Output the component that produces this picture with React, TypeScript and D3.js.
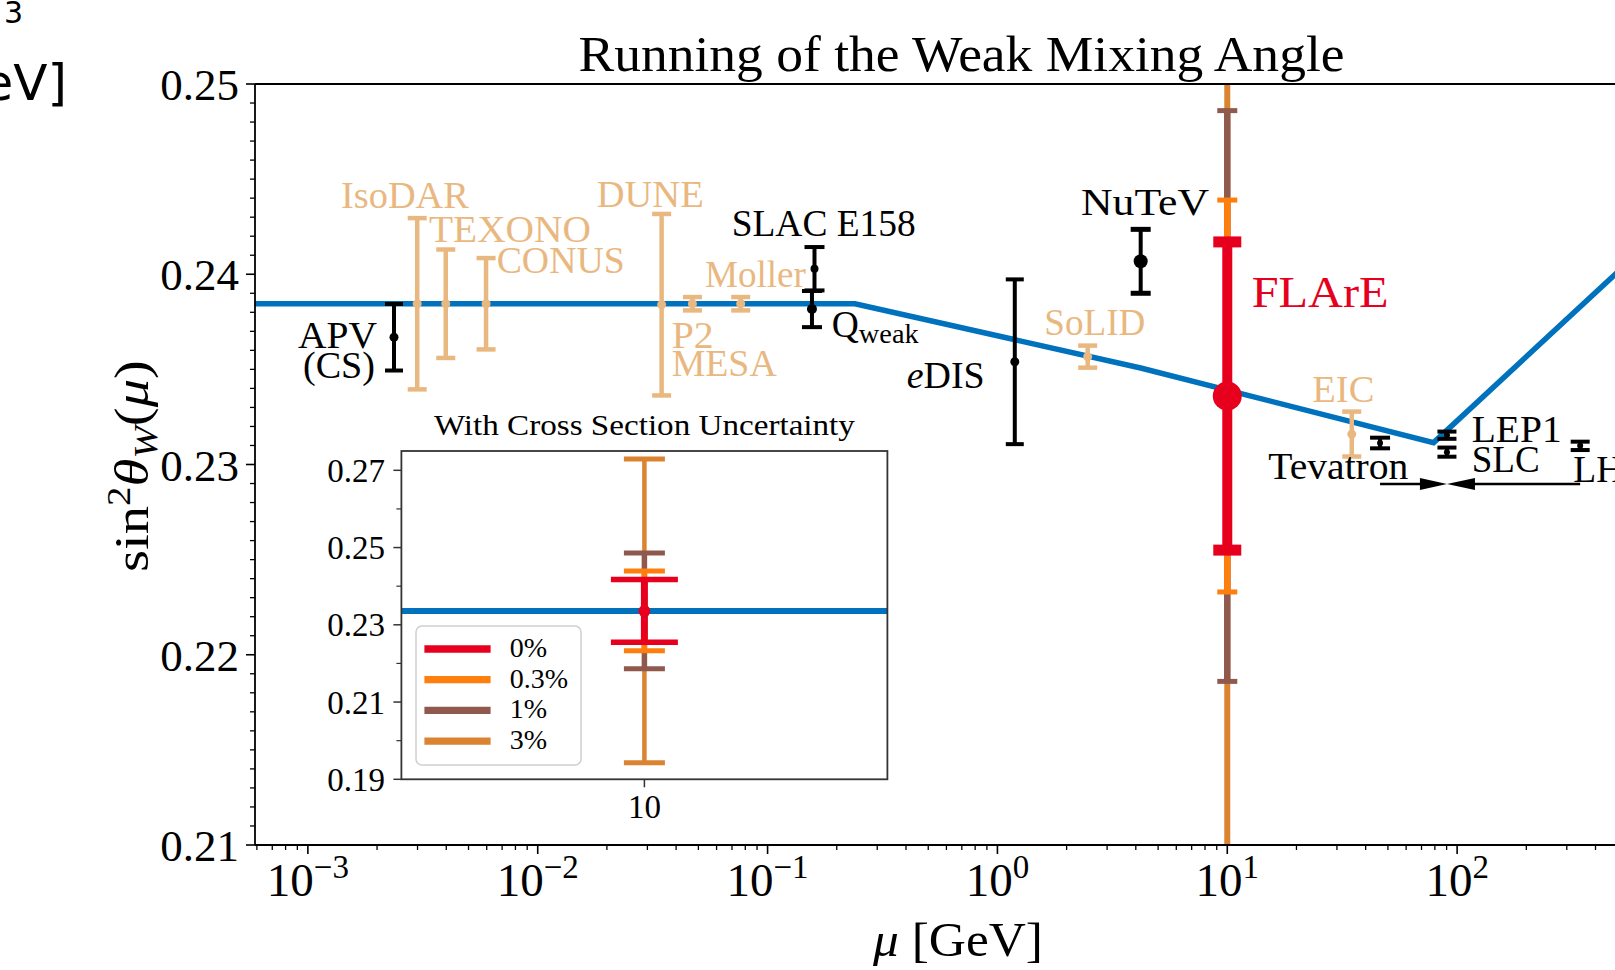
import React, { useEffect } from 'react';
import * as d3 from 'd3';

const W = 1615;
const H = 970;
const FONT = "'Liberation Serif', 'DejaVu Serif', serif";

// ---------- data ----------
// Standard Model running of sin^2 theta_W (MS-bar), piecewise in log(mu)
const smMu = [1e-4, 0.24, 4.2, 79, 1000];
const smS2w = [0.23845, 0.23845, 0.23507, 0.23115, 0.2435];

// existing measurements (black)
const measNames = ['APV', 'E158', 'Qweak', 'eDIS', 'NuTeV', 'Tevatron', 'LEP1', 'SLC', 'LHC'];
const measMu = [0.00237, 0.16, 0.156, 1.19, 4.2, 46.2, 90.3, 90.3, 343];
const measVal = [0.23669, 0.24029, 0.23817, 0.2354, 0.24068, 0.23113, 0.23154, 0.23065, 0.23098];
const measErr = [0.00175, 0.00114, 0.00095, 0.00433, 0.00168, 0.00028, 0.00019, 0.00024, 0.00022];

// future / proposed (tan)
const futNames = ['IsoDAR', 'TEXONO', 'CONUS', 'DUNE', 'P2', 'Moller', 'SoLID', 'EIC'];
const futMu = [0.00299, 0.00398, 0.00596, 0.0346, 0.0471, 0.0764, 2.47, 34.8];
const futVal = [0.23845, 0.23845, 0.23845, 0.2384, 0.23845, 0.23845, 0.23567, 0.2316];
const futErr = [0.0045, 0.00285, 0.0024, 0.00477, 0.00035, 0.00035, 0.00058, 0.00118];

// FLArE projection at mu = 10 GeV, for several cross-section uncertainties
const flareMu = 10;
const flareVal = 0.2336;
const xsecLabels = ['0%', '0.3%', '1%', '3%'];
const flareErr = [0.0081, 0.0103, 0.015, 0.0393];

// axis ticks
const xDecades = [-3, -2, -1, 0, 1, 2];
const yMajor = [0.21, 0.22, 0.23, 0.24, 0.25];
const insetYMajor = [0.19, 0.21, 0.23, 0.25, 0.27];
const insetYMinor = [0.2, 0.22, 0.24, 0.26];
const insetXTicks = [10];

// ---------- styles ----------
const TAN = '#E9B880';
const BLUE = '#0072BD';
const xsecColors = ['#E6001E', '#FF7F0E', '#8F594D', '#DA8330'];

const measStyle: Record<string, { r: number; cap: number; lw: number; ct: number }> = {
  APV: { r: 4.5, cap: 9, lw: 4, ct: 4 },
  E158: { r: 4, cap: 10, lw: 4, ct: 4 },
  Qweak: { r: 5, cap: 10, lw: 4, ct: 4 },
  eDIS: { r: 4.5, cap: 9, lw: 4, ct: 4 },
  NuTeV: { r: 7, cap: 10, lw: 4, ct: 5 },
  Tevatron: { r: 3, cap: 10, lw: 4, ct: 4 },
  LEP1: { r: 3, cap: 9.5, lw: 4, ct: 4 },
  SLC: { r: 3, cap: 9.5, lw: 4, ct: 4 },
  LHC: { r: 3, cap: 9.5, lw: 4, ct: 4 },
};

// text annotations placed in data coordinates (mu, sin^2)
type Ann = { key: string; mu: number; v: number; w: number; color: string; size?: number };
const annotations: Ann[] = [
  { key: 'IsoDAR', mu: 1.393e-3, v: 0.2435, w: 128, color: TAN },
  { key: 'TEXONO', mu: 3.365e-3, v: 0.24171, w: 162, color: TAN },
  { key: 'CONUS', mu: 6.63e-3, v: 0.24005, w: 128, color: TAN },
  { key: 'DUNE', mu: 0.01806, v: 0.24353, w: 107, color: TAN },
  { key: 'Moller', mu: 0.0534, v: 0.23935, w: 101, color: TAN },
  { key: 'P2', mu: 0.03827, v: 0.23611, w: 42, color: TAN },
  { key: 'MESA', mu: 0.03827, v: 0.23465, w: 105, color: TAN },
  { key: 'APV', mu: 9.06e-4, v: 0.236124, w: 79, color: '#000' },
  { key: '(CS)', mu: 9.52e-4, v: 0.234547, w: 72, color: '#000' },
  { key: 'SLAC E158', mu: 0.06982, v: 0.242011, w: 184, color: '#000' },
  { key: 'NuTeV', mu: 2.311, v: 0.243114, w: 128, color: '#000' },
  { key: 'SoLID', mu: 1.6, v: 0.236807, w: 101, color: TAN },
  { key: 'FLArE', mu: 12.77, v: 0.238294, w: 137, color: '#E6001E', size: 45 },
  { key: 'EIC', mu: 23.44, v: 0.233301, w: 62, color: TAN },
  { key: 'Tevatron', mu: 15.09, v: 0.229222, w: 140, color: '#000' },
  { key: 'LEP1', mu: 115.7, v: 0.231199, w: 90, color: '#000' },
  { key: 'SLC', mu: 115.7, v: 0.229621, w: 68, color: '#000' },
  { key: 'LHC', mu: 320.3, v: 0.229096, w: 75, color: '#000' },
];

// ---------- scales ----------
const xS = d3.scaleLog().domain([Math.pow(10, -3.23), Math.pow(10, 2.9)]).range([255, 1664]);
const yS = d3.scaleLinear().domain([0.21, 0.25]).range([845, 84]);

const ixS = d3.scaleLinear().domain([9, 11]).range([401.4, 887.4]);
const iyS = d3.scaleLinear().domain([0.19, 0.275]).range([779.3, 451]);

function ErrBar(props: {
  x: number; y: number; yLo: number; yHi: number; cap: number; lw: number; ct: number;
  color: string; r: number;
}) {
  const { x, y, yLo, yHi, cap, lw, ct, color, r } = props;
  return (
    <g>
      <line x1={x} x2={x} y1={yLo} y2={yHi} stroke={color} strokeWidth={lw} />
      <line x1={x - cap} x2={x + cap} y1={yLo} y2={yLo} stroke={color} strokeWidth={ct} />
      <line x1={x - cap} x2={x + cap} y1={yHi} y2={yHi} stroke={color} strokeWidth={ct} />
      {r > 0 && <circle cx={x} cy={y} r={r} fill={color} />}
    </g>
  );
}

export default function App() {
  useEffect(() => {
    document.body.style.margin = '0';
    document.body.style.overflow = 'hidden';
  }, []);

  const smLine = d3
    .line<number>()
    .x((_, i) => xS(smMu[i]))
    .y((d) => yS(d))(smS2w) as string;

  // minor x ticks
  const xMinor: number[] = [];
  for (let d = -4; d <= 3; d++) {
    for (let k = 2; k <= 9; k++) {
      const v = k * Math.pow(10, d);
      if (v >= xS.domain()[0] && v <= xS.domain()[1]) xMinor.push(v);
    }
  }
  const yMinor = d3.range(210, 251).map((v) => v / 1000).filter((v) => Math.round(v * 1000) % 10 !== 0);

  const fx = xS(flareMu);
  const fy = yS(flareVal);
  const mainFlareStyle = [
    { lw: 10, cap: 14, ct: 11 },
    { lw: 6.5, cap: 10, ct: 5 },
    { lw: 6.5, cap: 10, ct: 5 },
    { lw: 6, cap: 10, ct: 5 },
  ];
  const insetFlareStyle = [
    { lw: 7, cap: 33.5, ct: 5.5 },
    { lw: 5.5, cap: 20.5, ct: 5 },
    { lw: 5.5, cap: 20.5, ct: 5 },
    { lw: 4.5, cap: 20.5, ct: 5 },
  ];

  const lepIdx = measNames.indexOf('LEP1');
  const tevIdx = measNames.indexOf('Tevatron');
  const lhcIdx = measNames.indexOf('LHC');
  const arrowY = 484;
  const zx = xS(measMu[lepIdx]);
  const tevx = xS(measMu[tevIdx]);
  const lhcx = xS(measMu[lhcIdx]);

  const ix10 = ixS(10);

  return (
    <div style={{ position: 'absolute', left: 0, top: 0, width: W, height: H, overflow: 'hidden' }}>
      <svg width={W} height={H} style={{ display: 'block', background: '#fff' }} fontFamily={FONT}>
        <defs>
          <clipPath id="plotClip">
            <rect x={255} y={84} width={1664 - 255} height={845 - 84} />
          </clipPath>
          <clipPath id="insetClip">
            <rect x={401.4} y={451} width={887.4 - 401.4} height={779.3 - 451} />
          </clipPath>
        </defs>

        {/* stray text from neighbouring figure */}
        <text x={67} y={100} textAnchor="end" fontFamily="'DejaVu Sans', sans-serif" fontSize={50} fill="#000">
          [GeV]
        </text>
        <text x={4} y={23} fontFamily="'DejaVu Sans', sans-serif" fontSize={30} fill="#000">
          3
        </text>
        <text x={3} y={12} textAnchor="end" fontFamily="'DejaVu Sans', sans-serif" fontSize={44} fill="#000">
          )
        </text>

        {/* title */}
        <text x={961.5} y={71} textAnchor="middle" fontSize={50} textLength={766} lengthAdjust="spacingAndGlyphs">
          Running of the Weak Mixing Angle
        </text>

        {/* plot content */}
        <g clipPath="url(#plotClip)">
          {/* FLArE bars, widest first */}
          {[3, 2, 1, 0].map((i) => (
            <ErrBar
              key={'f' + i}
              x={fx}
              y={fy}
              yLo={yS(flareVal - flareErr[i])}
              yHi={yS(flareVal + flareErr[i])}
              cap={mainFlareStyle[i].cap}
              lw={mainFlareStyle[i].lw}
              ct={mainFlareStyle[i].ct}
              color={xsecColors[i]}
              r={0}
            />
          ))}
          <path d={smLine} fill="none" stroke={BLUE} strokeWidth={5.5} />
          <circle cx={fx} cy={fy} r={14.5} fill={xsecColors[0]} />

          {futNames.map((n, i) => (
            <ErrBar
              key={n}
              x={xS(futMu[i])}
              y={yS(futVal[i])}
              yLo={yS(futVal[i] - futErr[i])}
              yHi={yS(futVal[i] + futErr[i])}
              cap={9.5}
              lw={4.5}
              ct={4.5}
              color={TAN}
              r={4.5}
            />
          ))}
          {measNames.map((n, i) => (
            <ErrBar
              key={n}
              x={xS(measMu[i])}
              y={yS(measVal[i])}
              yLo={yS(measVal[i] - measErr[i])}
              yHi={yS(measVal[i] + measErr[i])}
              cap={measStyle[n].cap}
              lw={measStyle[n].lw}
              ct={measStyle[n].ct}
              color="#000"
              r={measStyle[n].r}
            />
          ))}

          {/* arrows to the Z pole */}
          <line x1={tevx} x2={zx - 26} y1={arrowY} y2={arrowY} stroke="#000" strokeWidth={2.5} />
          <polygon points={`${zx},${arrowY} ${zx - 27},${arrowY - 6} ${zx - 27},${arrowY + 6}`} fill="#000" />
          <line x1={lhcx} x2={zx + 26} y1={arrowY} y2={arrowY} stroke="#000" strokeWidth={2.5} />
          <polygon points={`${zx},${arrowY} ${zx + 28},${arrowY - 6} ${zx + 28},${arrowY + 6}`} fill="#000" />
        </g>

        {/* annotations */}
        {annotations.map((a) => (
          <text
            key={a.key}
            x={xS(a.mu)}
            y={yS(a.v)}
            fontSize={a.size ?? 37}
            fill={a.color}
            textLength={a.w}
            lengthAdjust="spacingAndGlyphs"
          >
            {a.key}
          </text>
        ))}
        <text x={xS(0.1901)} y={yS(0.236702)} fontSize={37} fill="#000" textLength={87} lengthAdjust="spacingAndGlyphs">
          Q<tspan dy={6} fontSize={28}>weak</tspan>
        </text>
        <text x={xS(0.403)} y={yS(0.234037)} fontSize={37} fill="#000" textLength={78} lengthAdjust="spacingAndGlyphs">
          <tspan fontStyle="italic">e</tspan>DIS
        </text>

        {/* axes spines */}
        <line x1={255} x2={1664} y1={84} y2={84} stroke="#000" strokeWidth={1.8} />
        <line x1={255} x2={1664} y1={845} y2={845} stroke="#000" strokeWidth={1.8} />
        <line x1={255} x2={255} y1={84} y2={845} stroke="#000" strokeWidth={1.8} />

        {/* y ticks */}
        {yMajor.map((v) => (
          <g key={'ym' + v}>
            <line x1={246} x2={255} y1={yS(v)} y2={yS(v)} stroke="#000" strokeWidth={1.6} />
            <text x={239} y={yS(v) + 16} textAnchor="end" fontSize={45}>
              {v.toFixed(2)}
            </text>
          </g>
        ))}
        {yMinor.map((v) => (
          <line key={'yn' + v} x1={250} x2={255} y1={yS(v)} y2={yS(v)} stroke="#000" strokeWidth={1.3} />
        ))}

        {/* x ticks */}
        {xDecades.map((d) => (
          <g key={'xd' + d}>
            <line x1={xS(Math.pow(10, d))} x2={xS(Math.pow(10, d))} y1={845} y2={854} stroke="#000" strokeWidth={1.6} />
            <text x={xS(Math.pow(10, d))} y={896} textAnchor="middle" fontSize={47}>
              10
              <tspan dy={-18} fontSize={33}>
                {d < 0 ? '\u2212' + Math.abs(d) : String(d)}
              </tspan>
            </text>
          </g>
        ))}
        {xMinor.map((v) => (
          <line key={'xn' + v} x1={xS(v)} x2={xS(v)} y1={845} y2={850} stroke="#000" strokeWidth={1.3} />
        ))}

        {/* axis labels */}
        <text x={958} y={956} textAnchor="middle" fontSize={48} textLength={170} lengthAdjust="spacingAndGlyphs">
          <tspan fontStyle="italic">μ</tspan> [GeV]
        </text>
        <text
          transform="translate(148,466) rotate(-90)"
          textAnchor="middle"
          fontSize={48}
          textLength={212}
          lengthAdjust="spacingAndGlyphs"
        >
          sin
          <tspan dy={-18} fontSize={33}>2</tspan>
          <tspan dy={18} fontStyle="italic">θ</tspan>
          <tspan dy={9} fontSize={33} fontStyle="italic">W</tspan>
          <tspan dy={-9}>(</tspan>
          <tspan fontStyle="italic">μ</tspan>)
        </text>

        {/* ---------- inset ---------- */}
        <text x={644.4} y={435} textAnchor="middle" fontSize={30} textLength={421} lengthAdjust="spacingAndGlyphs">
          With Cross Section Uncertainty
        </text>
        <rect x={401.4} y={451} width={887.4 - 401.4} height={779.3 - 451} fill="#fff" />
        <g clipPath="url(#insetClip)">
          <line x1={401.4} x2={887.4} y1={iyS(flareVal)} y2={iyS(flareVal)} stroke={BLUE} strokeWidth={6} />
          {[3, 2, 1, 0].map((i) => (
            <ErrBar
              key={'if' + i}
              x={ix10}
              y={iyS(flareVal)}
              yLo={iyS(flareVal - flareErr[i])}
              yHi={iyS(flareVal + flareErr[i])}
              cap={insetFlareStyle[i].cap}
              lw={insetFlareStyle[i].lw}
              ct={insetFlareStyle[i].ct}
              color={xsecColors[i]}
              r={i === 0 ? 6 : 0}
            />
          ))}
        </g>
        <rect x={401.4} y={451} width={887.4 - 401.4} height={779.3 - 451} fill="none" stroke="#333" strokeWidth={1.8} />
        {insetYMajor.map((v) => (
          <g key={'iym' + v}>
            <line x1={393.4} x2={401.4} y1={iyS(v)} y2={iyS(v)} stroke="#333" strokeWidth={1.5} />
            <text x={385} y={iyS(v) + 11.5} textAnchor="end" fontSize={33}>
              {v.toFixed(2)}
            </text>
          </g>
        ))}
        {insetYMinor.map((v) => (
          <line key={'iyn' + v} x1={396.4} x2={401.4} y1={iyS(v)} y2={iyS(v)} stroke="#333" strokeWidth={1.2} />
        ))}
        {insetXTicks.map((v) => (
          <g key={'ix' + v}>
            <line x1={ixS(v)} x2={ixS(v)} y1={779.3} y2={787.3} stroke="#333" strokeWidth={1.5} />
            <text x={ixS(v)} y={818} textAnchor="middle" fontSize={33}>
              {v}
            </text>
          </g>
        ))}

        {/* legend */}
        <rect x={416} y={626} width={165} height={139} rx={6} fill="#fff" fillOpacity={0.8} stroke="#cfcfcf" strokeWidth={1.5} />
        {xsecLabels.map((l, i) => (
          <g key={'lg' + l}>
            <line x1={424.4} x2={490.6} y1={649 + i * 30.7} y2={649 + i * 30.7} stroke={xsecColors[i]} strokeWidth={7.3} />
            <text x={509.7} y={657 + i * 30.7} fontSize={28}>
              {l}
            </text>
          </g>
        ))}
      </svg>
    </div>
  );
}
